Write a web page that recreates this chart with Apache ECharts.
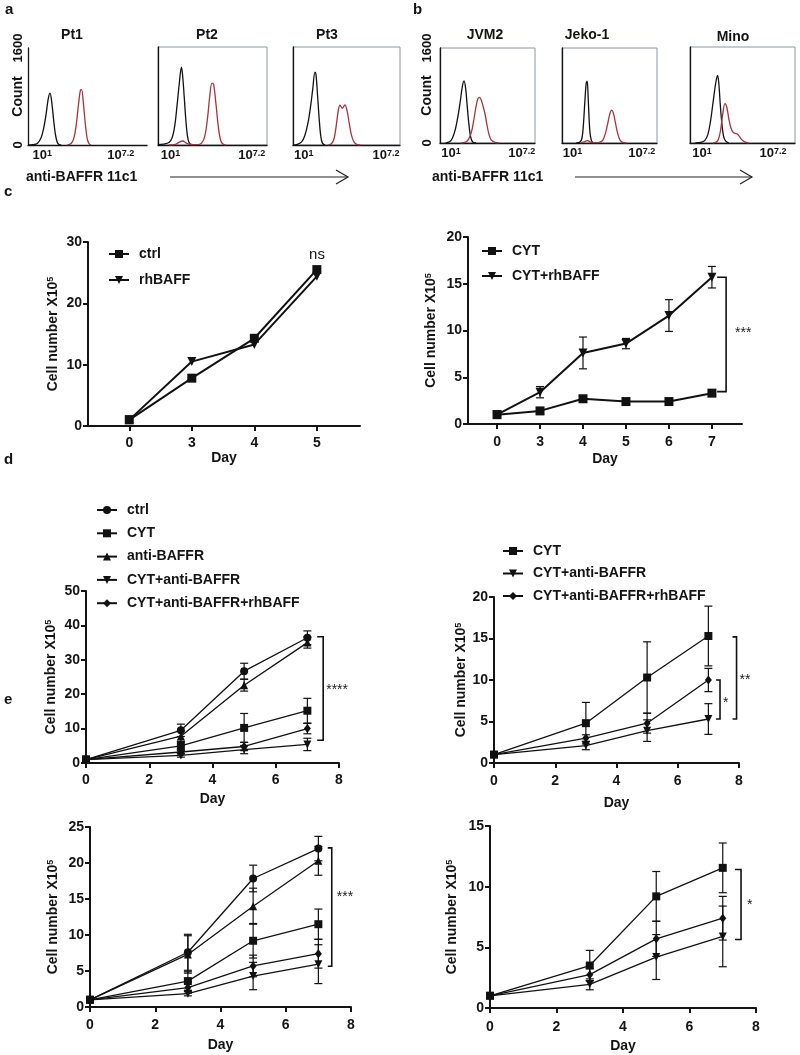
<!DOCTYPE html>
<html><head><meta charset="utf-8">
<script src="https://cdn.jsdelivr.net/npm/echarts@6/dist/echarts.min.js"></script>
<style>html,body{margin:0;padding:0;background:#fff}#c{width:800px;height:1055px}</style>
</head><body><div id="c"></div>
<script>
// ================= DATA =================
// Flow-cytometry histograms: [position along log axis (0-100 of panel width), count]
const histTitles = ['Pt1', 'Pt2', 'Pt3', 'JVM2', 'Jeko-1', 'Mino'];
const pt1Black = [[0,0],[4,5],[8,30],[11,120],[13,260],[15,480],[17,760],[18.5,855],[20,700],[21.5,420],[23,180],[24.5,50],[26,8],[28,0]];
const pt1Red = [[33,0],[36,20],[38.5,110],[40.5,330],[42.5,680],[44,900],[45,915],[46.5,700],[48,380],[49.5,130],[51,30],[53,0]];
const pt2Black = [[0,5],[5,15],[10,40],[13,120],[15.5,330],[17.5,650],[19.5,1000],[21.5,1270],[22.5,1150],[24,800],[25.5,420],[27,150],[28.5,40],[31,0]];
const pt2Red = [[10,0],[16,10],[20,50],[23,65],[26,30],[30,8],[36,5],[40,30],[43,150],[45.5,450],[47.5,800],[49.5,1010],[51,990],[53,700],[55,350],[57,110],[59,25],[62,0]];
const pt3Black = [[0,0],[4,10],[8,50],[11,150],[14,360],[16.5,640],[18.5,920],[20.5,1190],[21.5,1150],[23,800],[24.5,420],[26,140],[27.5,30],[30,0]];
const pt3Red = [[33,0],[36,20],[38.5,110],[40.5,330],[42.5,580],[44,650],[46,600],[48.5,655],[50.5,560],[52.5,360],[54.5,170],[57,50],[60,5],[63,0]];
const jvm2Black = [[6,0],[10,20],[13,80],[16,220],[19,460],[21.5,720],[23.5,950],[25.3,1045],[27,920],[28.5,650],[30,380],[31.5,170],[33,60],[35,10],[38,0]];
const jvm2Red = [[22,0],[27,15],[30,60],[33,180],[35.5,380],[38,620],[40,750],[41.5,770],[43.5,720],[45.5,610],[47.5,480],[49.5,300],[51.5,150],[54,50],[58,10],[62,0]];
const jeko1Black = [[15,0],[19,15],[21,80],[22.5,300],[24,680],[25.5,1010],[26.5,1040],[27.5,780],[28.5,420],[29.5,170],[31,40],[33,0]];
const jeko1Red = [[20,0],[24,25],[27,40],[30,15],[35,5],[40,15],[43,50],[45.5,150],[48,320],[50.5,500],[52.3,555],[54,510],[56,360],[58,200],[60,90],[62,30],[65,5],[68,0]];
const minoBlack = [[5,0],[10,10],[14,40],[17,140],[19.5,360],[22,680],[24.5,1000],[26.3,1125],[27.5,980],[29,600],[30.5,300],[32,110],[34,30],[37,0]];
const minoRed = [[22,0],[25,15],[27,60],[29,200],[31,460],[33.3,655],[35,600],[37,400],[39,250],[41,180],[43,160],[45,150],[47,110],[49,60],[52,20],[56,0]];

// Panel c
const cLeftDays = ['0', '3', '4', '5'];
const cLeftCtrl = [1.0, 7.8, 14.3, 25.5];
const cLeftRhBAFF = [1.0, 10.5, 13.3, 24.4];
const cRightDays = ['0', '3', '4', '5', '6', '7'];
const cRightCYT = [1.0, 1.4, 2.7, 2.4, 2.4, 3.3];
const cRightCYTrhBAFF = [1.0, 3.4, 7.6, 8.6, 11.6, 15.7];
const cRightCYTrhBAFFErr = [0, 0.6, 1.7, 0.55, 1.7, 1.15];

// Panels d and e (days 0,3,5,7)
const growthDays = [0, 3, 5, 7];
const dLeftCtrl = [1, 9.5, 26.7, 36.4];        const dLeftCtrlErr = [0, 1.8, 2.3, 2.0];
const dLeftCYT = [1, 5.0, 10.2, 15.2];         const dLeftCYTErr = [0, 1.3, 4.2, 3.6];
const dLeftAnti = [1, 7.8, 22.6, 35.0];        const dLeftAntiErr = [0, 1.5, 1.7, 1.6];
const dLeftCYTAnti = [1, 2.2, 3.9, 5.4];       const dLeftCYTAntiErr = [0, 0.5, 1.2, 1.8];
const dLeftCYTAntiRh = [1, 3.2, 4.8, 10.0];    const dLeftCYTAntiRhErr = [0, 0.6, 1.2, 1.5];

const dRightCYT = [1, 4.8, 10.3, 15.3];        const dRightCYTErr = [0, 2.5, 4.3, 3.6];
const dRightCYTAnti = [1, 2.1, 3.9, 5.3];      const dRightCYTAntiErr = [0, 0.5, 1.3, 1.85];
const dRightCYTAntiRh = [1, 3.0, 4.8, 10.0];   const dRightCYTAntiRhErr = [0, 0.4, 1.2, 1.4];

const eLeftCtrl = [1, 7.6, 17.85, 22.0];       const eLeftCtrlErr = [0, 2.5, 1.85, 1.7];
const eLeftCYT = [1, 3.6, 9.2, 11.5];          const eLeftCYTErr = [0, 1.3, 2.4, 2.1];
const eLeftAnti = [1, 7.3, 14.0, 20.3];        const eLeftAntiErr = [0, 2.6, 2.5, 2.0];
const eLeftCYTAnti = [1, 1.85, 4.3, 5.95];     const eLeftCYTAntiErr = [0, 0.3, 1.9, 2.7];
const eLeftCYTAntiRh = [1, 2.7, 5.7, 7.4];     const eLeftCYTAntiRhErr = [0, 0.8, 1.5, 2.0];

const eRightCYT = [1, 3.5, 9.2, 11.55];        const eRightCYTErr = [0, 1.25, 2.05, 2.05];
const eRightCYTAnti = [1, 1.95, 4.2, 5.9];     const eRightCYTAntiErr = [0, 0.45, 1.85, 2.5];
const eRightCYTAntiRh = [1, 2.75, 5.7, 7.4];   const eRightCYTAntiRhErr = [0, 0.5, 1.45, 1.8];

// ================= CHART =================
const FONT = '"Liberation Sans", Arial, Helvetica, sans-serif';
const INK = '#141414';
const RED = '#a8323e';
const supRich = { s: { fontSize: 9, fontWeight: 'bold', fontFamily: FONT, color: INK, verticalAlign: 'top', lineHeight: 9 } };

const chart = echarts.init(document.getElementById('c'), null, { renderer: 'canvas', width: 800, height: 1055 });

const grids = [], xAxes = [], yAxes = [], series = [], graphics = [];

// ---- histograms ----
const histCfg = [
  { black: pt1Black, red: pt1Red, box: [28, 48, 119, 97], title: [72, 35], frame: false, yl: true, gap: 3, xl: [12, 78] },
  { black: pt2Black, red: pt2Red, box: [158, 47, 109, 98], title: [207, 35], frame: true, yl: false, gap: 3, xl: [11.5, 86] },
  { black: pt3Black, red: pt3Red, box: [293, 47, 107, 98], title: [327, 35], frame: true, yl: false, gap: 3, xl: [10, 87] },
  { black: jvm2Black, red: jvm2Red, box: [440, 48, 95, 95], title: [485, 35], frame: true, yl: true, gap: 6, xl: [11.6, 86] },
  { black: jeko1Black, red: jeko1Red, box: [562, 48, 95, 95], title: [587, 35], frame: true, yl: false, gap: 3, xl: [11, 84] },
  { black: minoBlack, red: minoRed, box: [690, 47, 105, 96], title: [733, 37], frame: true, yl: false, gap: 3, xl: [11.4, 79] }
];
histCfg.forEach((h, i) => {
  grids.push({ left: h.box[0], top: h.box[1], width: h.box[2], height: h.box[3], show: h.frame, borderColor: '#8b96a6', borderWidth: 1, backgroundColor: 'transparent' });
  xAxes.push({
    gridIndex: i, type: 'value', min: 0, max: 100,
    axisLine: { show: true, onZero: false, lineStyle: { color: INK, width: 1.3 } },
    axisTick: { show: false }, splitLine: { show: false },
    axisLabel: { show: true, customValues: h.xl, margin: 4, fontSize: 13, fontWeight: 'bold', color: INK, fontFamily: FONT,
      formatter: v => v < 50 ? '10{s|1}' : '10{s|7.2}', rich: supRich }
  });
  yAxes.push({
    gridIndex: i, type: 'value', min: 0, max: 1600,
    axisLine: { show: true, lineStyle: { color: INK, width: 1.3 } },
    axisTick: { show: false }, splitLine: { show: false },
    axisLabel: { show: h.yl, customValues: [0, 1600], rotate: 90, margin: h.gap, fontSize: 13, fontWeight: 'bold', color: INK, fontFamily: FONT,
      formatter: v => String(v) },
    name: h.yl ? 'Count' : '', nameLocation: 'middle', nameRotate: 90, nameGap: h.gap, nameMoveOverlap: false,
    nameTextStyle: { fontSize: 14, fontWeight: 'bold', color: INK, fontFamily: FONT }
  });
  series.push({ type: 'line', xAxisIndex: i, yAxisIndex: i, data: h.black, smooth: 0.35, symbol: 'none', lineStyle: { color: '#111', width: 1.3 }, silent: true });
  series.push({ type: 'line', xAxisIndex: i, yAxisIndex: i, data: h.red, smooth: 0.35, symbol: 'none', lineStyle: { color: RED, width: 1.3 }, silent: true });
  graphics.push({ type: 'text', x: h.title[0], y: h.title[1], style: { text: histTitles[i], font: 'bold 14px ' + FONT, fill: INK, align: 'center', verticalAlign: 'middle', textAlign: 'center', textVerticalAlign: 'middle' } });
});

// ---- line charts ----
function errRender(params, api) {
  const x = api.value(0), y = api.value(1), e = api.value(2);
  if (!e) return null;
  const t = api.coord([x, y + e]), b = api.coord([x, y - e]);
  const cap = 4, st = { stroke: '#111', lineWidth: 1.2 };
  return { type: 'group', children: [
    { type: 'line', shape: { x1: t[0], y1: t[1], x2: b[0], y2: b[1] }, style: st },
    { type: 'line', shape: { x1: t[0] - cap, y1: t[1], x2: t[0] + cap, y2: t[1] }, style: st },
    { type: 'line', shape: { x1: b[0] - cap, y1: b[1], x2: b[0] + cap, y2: b[1] }, style: st }
  ] };
}
function addLine(gi, name, xs, ys, symbol, rot, size, lw) {
  series.push({ name, type: 'line', xAxisIndex: gi, yAxisIndex: gi, data: xs.map((x, k) => [x, ys[k]]),
    symbol, symbolRotate: rot, symbolSize: size, showSymbol: true,
    lineStyle: { color: '#111', width: lw }, itemStyle: { color: '#111' }, z: 4, silent: true });
}
function addErr(gi, xs, ys, es) {
  series.push({ type: 'custom', xAxisIndex: gi, yAxisIndex: gi, data: xs.map((x, k) => [x, ys[k], es[k]]), renderItem: errRender, z: 3, silent: true, clip: false });
}
function addBracket(gi, b) {
  series.push({ type: 'custom', xAxisIndex: gi, yAxisIndex: gi, data: [[b.x, b.y1, b.y2]], clip: false, silent: true, z: 5,
    renderItem: (p, api) => {
      const a = api.coord([b.x, b.y1]), c = api.coord([b.x, b.y2]), m = api.coord([b.x, b.ly]);
      return { type: 'group', children: [
        { type: 'polyline', shape: { points: [[a[0] - b.tick, a[1]], [a[0], a[1]], [c[0], c[1]], [c[0] - b.tick, c[1]]] }, style: { stroke: '#111', lineWidth: 1.6, fill: 'none' } },
        { type: 'text', x: a[0] + b.dx, y: m[1], style: { text: b.label, font: '14px ' + FONT, fill: '#222', align: 'left', verticalAlign: 'middle', textAlign: 'left', textVerticalAlign: 'middle' } }
      ] };
    } });
}
const yName = 'Cell number X10{s|5}';
function addPlot(gi, box, xa, ya, dayGap, lblMargin, yNameGap) {
  grids.push({ left: box[0], top: box[1], width: box[2], height: box[3], show: false });
  xAxes.push(Object.assign({
    gridIndex: gi, type: 'value',
    axisLine: { show: true, onZero: false, lineStyle: { color: INK, width: 2 } },
    axisTick: { show: true, length: 5, lineStyle: { color: INK, width: 2 } },
    splitLine: { show: false },
    axisLabel: { margin: lblMargin, fontSize: 14, fontWeight: 'bold', color: INK, fontFamily: FONT },
    name: 'Day', nameLocation: 'middle', nameGap: dayGap,
    nameTextStyle: { fontSize: 14, fontWeight: 'bold', color: INK, fontFamily: FONT }
  }, xa));
  yAxes.push(Object.assign({
    gridIndex: gi, type: 'value', min: 0,
    axisLine: { show: true, onZero: false, lineStyle: { color: INK, width: 2 } },
    axisTick: { show: true, length: 5, lineStyle: { color: INK, width: 2 } },
    splitLine: { show: false },
    axisLabel: { margin: 6, fontSize: 14, fontWeight: 'bold', color: INK, fontFamily: FONT },
    name: yName, nameLocation: 'middle', nameRotate: 90, nameGap: yNameGap,
    nameTextStyle: { fontSize: 14, fontWeight: 'bold', color: INK, fontFamily: FONT, rich: supRich }
  }, ya));
}

// c left (grid 6)
const cLIdx = cLeftDays.map((d, k) => k);
addPlot(6, [88, 242, 272, 184], { min: -0.66, max: 3.69,
  axisLabel: { margin: 10, fontSize: 14, fontWeight: 'bold', color: INK, fontFamily: FONT, customValues: cLIdx, formatter: v => cLeftDays[v] },
  axisTick: { show: true, length: 5, customValues: cLIdx, lineStyle: { color: INK, width: 2 } } },
  { max: 30, interval: 10 }, 22, 10, 28);
addLine(6, 'c1|ctrl', cLIdx, cLeftCtrl, 'rect', 0, 9, 2);
addLine(6, 'c1|rhBAFF', cLIdx, cLeftRhBAFF, 'triangle', 180, 9, 2);

// c right (grid 7)
const cRIdx = cRightDays.map((d, k) => k);
addPlot(7, [468, 237, 274, 187], { min: -0.676, max: 5.70,
  axisLabel: { margin: 11, fontSize: 14, fontWeight: 'bold', color: INK, fontFamily: FONT, customValues: cRIdx, formatter: v => cRightDays[v] },
  axisTick: { show: true, length: 5, customValues: cRIdx, lineStyle: { color: INK, width: 2 } } },
  { max: 20, interval: 5 }, 28, 11, 30);
addErr(7, cRIdx, cRightCYTrhBAFF, cRightCYTrhBAFFErr);
addLine(7, 'c2|CYT', cRIdx, cRightCYT, 'rect', 0, 9, 2);
addLine(7, 'c2|CYT+rhBAFF', cRIdx, cRightCYTrhBAFF, 'triangle', 180, 9, 2);
addBracket(7, { x: 5.33, y1: 15.7, y2: 3.46, ly: 9.74, tick: 9, dx: 9, label: '***' });

// d left (grid 8)
addPlot(8, [86, 591, 253, 172], { min: 0, max: 8, interval: 2 }, { max: 50, interval: 10 }, 29, 10, 28);
[[dLeftCtrl, dLeftCtrlErr, 'd1|ctrl', 'circle', 0, 8],
 [dLeftCYT, dLeftCYTErr, 'd1|CYT', 'rect', 0, 8],
 [dLeftAnti, dLeftAntiErr, 'd1|anti-BAFFR', 'triangle', 0, 8],
 [dLeftCYTAnti, dLeftCYTAntiErr, 'd1|CYT+anti-BAFFR', 'triangle', 180, 8],
 [dLeftCYTAntiRh, dLeftCYTAntiRhErr, 'd1|CYT+anti-BAFFR+rhBAFF', 'diamond', 0, [7, 9]]
].forEach(s => { addErr(8, growthDays, s[0], s[1]); addLine(8, s[2], growthDays, s[0], s[3], s[4], s[5], 1.3); });
addBracket(8, { x: 7.5, y1: 36.7, y2: 6.6, ly: 21.2, tick: 6, dx: 3, label: '****' });

// d right (grid 9)
addPlot(9, [494, 597, 245, 166], { min: 0, max: 8, interval: 2 }, { max: 20, interval: 5 }, 33, 11, 26);
[[dRightCYT, dRightCYTErr, 'd2|CYT', 'rect', 0, 8],
 [dRightCYTAnti, dRightCYTAntiErr, 'd2|CYT+anti-BAFFR', 'triangle', 180, 8],
 [dRightCYTAntiRh, dRightCYTAntiRhErr, 'd2|CYT+anti-BAFFR+rhBAFF', 'diamond', 0, [7, 9]]
].forEach(s => { addErr(9, growthDays, s[0], s[1]); addLine(9, s[2], growthDays, s[0], s[3], s[4], s[5], 1.3); });
addBracket(9, { x: 7.92, y1: 15.2, y2: 5.3, ly: 10.0, tick: 4, dx: 3, label: '**' });
addBracket(9, { x: 7.38, y1: 10.0, y2: 5.3, ly: 7.24, tick: 4, dx: 3, label: '*' });

// e left (grid 10)
addPlot(10, [90, 827, 261, 180], { min: 0, max: 8, interval: 2 }, { max: 25, interval: 5 }, 31, 11, 30);
[[eLeftCtrl, eLeftCtrlErr, 'e1|ctrl', 'circle', 0, 8],
 [eLeftCYT, eLeftCYTErr, 'e1|CYT', 'rect', 0, 8],
 [eLeftAnti, eLeftAntiErr, 'e1|anti-BAFFR', 'triangle', 0, 8],
 [eLeftCYTAnti, eLeftCYTAntiErr, 'e1|CYT+anti-BAFFR', 'triangle', 180, 8],
 [eLeftCYTAntiRh, eLeftCYTAntiRhErr, 'e1|CYT+anti-BAFFR+rhBAFF', 'diamond', 0, [7, 9]]
].forEach(s => { addErr(10, growthDays, s[0], s[1]); addLine(10, s[2], growthDays, s[0], s[3], s[4], s[5], 1.3); });
addBracket(10, { x: 7.41, y1: 22.1, y2: 5.67, ly: 15.3, tick: 4, dx: 5, label: '***' });

// e right (grid 11)
addPlot(11, [490, 826, 266, 182], { min: 0, max: 8, interval: 2 }, { max: 15, interval: 5 }, 31, 12, 31);
[[eRightCYT, eRightCYTErr, 'e2|CYT', 'rect', 0, 8],
 [eRightCYTAnti, eRightCYTAntiErr, 'e2|CYT+anti-BAFFR', 'triangle', 180, 8],
 [eRightCYTAntiRh, eRightCYTAntiRhErr, 'e2|CYT+anti-BAFFR+rhBAFF', 'diamond', 0, [7, 9]]
].forEach(s => { addErr(11, growthDays, s[0], s[1]); addLine(11, s[2], growthDays, s[0], s[3], s[4], s[5], 1.3); });
addBracket(11, { x: 7.55, y1: 11.42, y2: 5.64, ly: 8.5, tick: 6, dx: 6, label: '*' });

// legends
function legend(left, top, names, gap) {
  return { show: true, orient: 'vertical', left, top, padding: 0, itemGap: gap, itemWidth: 20, itemHeight: 10, selectedMode: false,
    data: names, formatter: n => n.split('|')[1],
    textStyle: { fontSize: 14, fontWeight: 'bold', color: INK, fontFamily: FONT, lineHeight: 16, padding: [0, 0, 0, 5] } };
}
const legends = [
  legend(108, 246, ['c1|ctrl', 'c1|rhBAFF'], 10),
  legend(481, 243, ['c2|CYT', 'c2|CYT+rhBAFF'], 9),
  legend(96, 502, ['d1|ctrl', 'd1|CYT', 'd1|anti-BAFFR', 'd1|CYT+anti-BAFFR', 'd1|CYT+anti-BAFFR+rhBAFF'], 7.3),
  legend(502, 543, ['d2|CYT', 'd2|CYT+anti-BAFFR', 'd2|CYT+anti-BAFFR+rhBAFF'], 6.5)
];

// panel letters, axis captions, arrows
function txt(x, y, s, font, align) {
  return { type: 'text', x, y, style: { text: s, font, fill: INK, align: align || 'left', verticalAlign: 'middle', textAlign: align || 'left', textVerticalAlign: 'middle' } };
}
graphics.push(txt(5, 10, 'a', 'bold 15px ' + FONT));
graphics.push(txt(413, 10, 'b', 'bold 15px ' + FONT));
graphics.push(txt(4, 192, 'c', 'bold 15px ' + FONT));
graphics.push(txt(4, 460, 'd', 'bold 15px ' + FONT));
graphics.push(txt(4, 700, 'e', 'bold 15px ' + FONT));
graphics.push(txt(26, 177, 'anti-BAFFR 11c1', 'bold 14px ' + FONT));
graphics.push(txt(432, 177, 'anti-BAFFR 11c1', 'bold 14px ' + FONT));
graphics.push(txt(317, 255, 'ns', '15px ' + FONT, 'center'));
function arrow(x1, x2, y) {
  return { type: 'group', children: [
    { type: 'line', shape: { x1, y1: y, x2, y2: y }, style: { stroke: '#222', lineWidth: 1.2 } },
    { type: 'polyline', shape: { points: [[x2 - 12, y - 7], [x2, y], [x2 - 12, y + 7]] }, style: { stroke: '#222', lineWidth: 1.2, fill: 'none' } }
  ] };
}
graphics.push(arrow(170, 348, 177));
graphics.push(arrow(575, 752, 177));

chart.setOption({
  animation: false,
  backgroundColor: '#fff',
  textStyle: { fontFamily: FONT },
  grid: grids, xAxis: xAxes, yAxis: yAxes, series, legend: legends, graphic: graphics
});
</script></body></html>
